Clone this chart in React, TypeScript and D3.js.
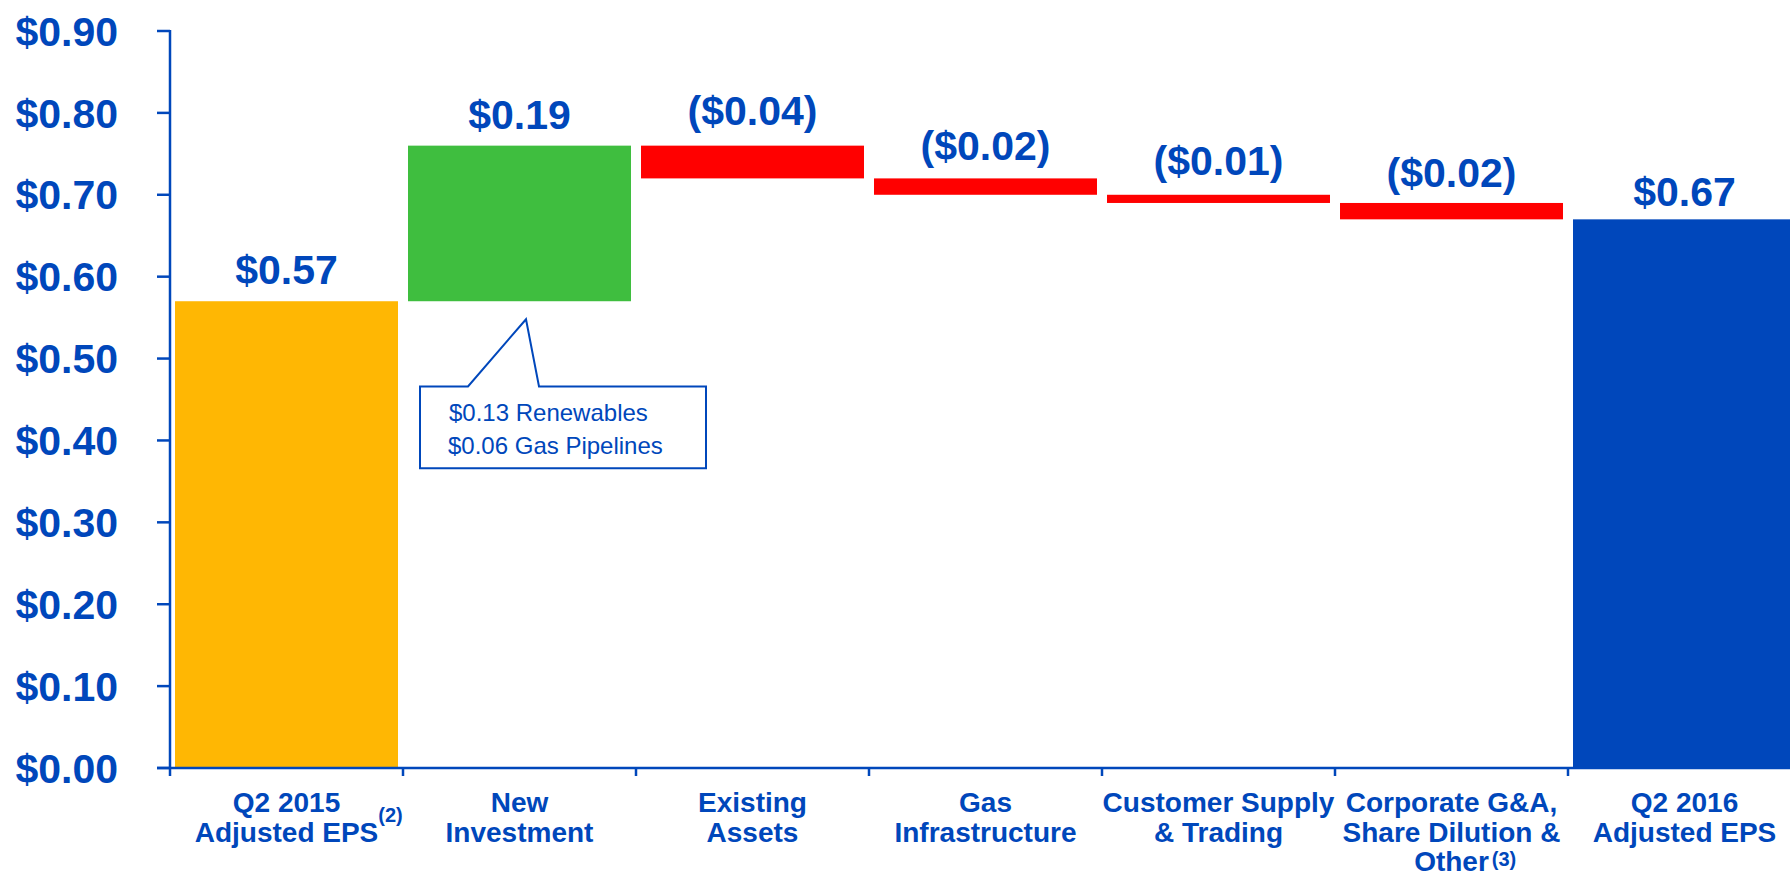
import React from 'react';
import * as d3 from 'd3';

// chart data
const categories = [
  'Q2 2015 Adjusted EPS',
  'New Investment',
  'Existing Assets',
  'Gas Infrastructure',
  'Customer Supply & Trading',
  'Corporate G&A, Share Dilution & Other',
  'Q2 2016 Adjusted EPS',
];
const categoryLines = [
  ['Q2 2015', 'Adjusted EPS'],
  ['New', 'Investment'],
  ['Existing', 'Assets'],
  ['Gas', 'Infrastructure'],
  ['Customer Supply', '& Trading'],
  ['Corporate G&A,', 'Share Dilution &', 'Other'],
  ['Q2 2016', 'Adjusted EPS'],
];
const footnotes = ['(2)', '', '', '', '', '(3)', ''];
const values = [0.57, 0.19, -0.04, -0.02, -0.01, -0.02, 0.67];
const kinds = ['total', 'up', 'down', 'down', 'down', 'down', 'total'];
const valueLabels = ['$0.57', '$0.19', '($0.04)', '($0.02)', '($0.01)', '($0.02)', '$0.67'];
const yTicks = [0, 0.1, 0.2, 0.3, 0.4, 0.5, 0.6, 0.7, 0.8, 0.9];
const calloutLines = ['$0.13 Renewables', '$0.06 Gas Pipelines'];

// gap between a bar top and its value label baseline (placed by hand in the original)
const labelGaps = [17, 17, 21, 18, 20, 16, 13];

const BLUE = '#0047BB';
const colors: Record<string, string> = {
  total0: '#FFB703',
  up: '#3FBE3F',
  down: '#FF0000',
  total1: '#0047BB',
};
const FONT = '"Liberation Sans", Arial, sans-serif';

const measure = (text: string, font: string) => {
  const ctx = document.createElement('canvas').getContext('2d');
  if (!ctx) return text.length * 15;
  ctx.font = font;
  return ctx.measureText(text).width;
};

export default function App() {
  const width = 1790;
  const height = 875;
  const left = 170;
  const bottom = 768;

  const x = d3.scaleBand<string>()
    .domain(categories)
    .range([left, left + 233 * 7])
    .paddingInner(0.043)
    .paddingOuter(0.0215);
  const y = d3.scaleLinear().domain([0, 0.9]).range([bottom, 31]);
  const step = x.step();

  // waterfall running totals
  let run = 0;
  const bars = values.map((v, i) => {
    let lo: number, hi: number;
    if (kinds[i] === 'total') {
      lo = 0; hi = v; run = v;
    } else {
      const next = run + v;
      lo = Math.min(run, next); hi = Math.max(run, next); run = next;
    }
    const color = kinds[i] === 'total' ? (i === 0 ? colors.total0 : colors.total1) : colors[kinds[i]];
    return { cat: categories[i], lo, hi, color, label: valueLabels[i] };
  });

  const bandStart = (c: string) => (x(c) as number) - (step - x.bandwidth()) / 2;

  // callout under the New Investment bar
  const nx = bandStart(categories[1]);
  const boxL = nx + 17, boxR = nx + 303;
  const boxT = y(0.466), boxB = y(0.366);
  const apexX = nx + 123, apexY = y(0.548);
  const calloutPath = `M${boxL},${boxT} L${nx + 65},${boxT} L${apexX},${apexY} L${nx + 136},${boxT} L${boxR},${boxT} L${boxR},${boxB} L${boxL},${boxB} Z`;

  return (
    <svg width={width} height={height} style={{ position: 'absolute', left: 0, top: 0, background: '#fff' }} fontFamily={FONT}>
      {/* bars */}
      {bars.map((b, i) => (
        <rect key={i} x={x(b.cat)} y={y(b.hi)} width={x.bandwidth()} height={y(b.lo) - y(b.hi)} fill={b.color} />
      ))}

      {/* value labels */}
      {bars.map((b, i) => (
        <text key={'v' + i} x={(x(b.cat) as number) + x.bandwidth() / 2} y={y(b.hi) - labelGaps[i]}
          textAnchor="middle" fontSize={41} fontWeight="bold" fill={BLUE}>{b.label}</text>
      ))}

      {/* y axis */}
      <line x1={left} x2={left} y1={y(0.9) - 1} y2={bottom + 8} stroke={BLUE} strokeWidth={2.5} />
      {yTicks.map((t) => (
        <g key={t}>
          <line x1={left - 13} x2={left} y1={y(t)} y2={y(t)} stroke={BLUE} strokeWidth={2.5} />
          <text x={118} y={y(t) + 14.7} textAnchor="end" fontSize={41} fontWeight="bold" fill={BLUE}>
            {'$' + t.toFixed(2)}
          </text>
        </g>
      ))}

      {/* x axis */}
      <line x1={left - 13} x2={width} y1={bottom} y2={bottom} stroke={BLUE} strokeWidth={2.5} />
      {categories.map((c, i) => (
        <line key={'t' + i} x1={bandStart(c) + step} x2={bandStart(c) + step} y1={bottom} y2={bottom + 8} stroke={BLUE} strokeWidth={2.5} />
      ))}
      {categories.map((c, i) => {
        const cx = bandStart(c) + step / 2;
        const lines = categoryLines[i];
        const lh = lines.length > 2 ? 29.5 : 30;
        const last = lines[lines.length - 1];
        const lastW = measure(last, `bold 28px ${FONT}`);
        const lastY = 812 + (lines.length - 1) * lh;
        return (
          <g key={'c' + i}>
            {lines.map((l, j) => (
              <text key={j} x={cx} y={812 + j * lh} textAnchor="middle" fontSize={28} fontWeight="bold" fill={BLUE}>{l}</text>
            ))}
            {footnotes[i] && (
              <text x={cx + lastW / 2 + (lines.length > 2 ? 3 : 0)} y={lines.length > 2 ? lastY - 5 : lastY - 20}
                fontSize={20} fontWeight="bold" fill={BLUE}>{footnotes[i]}</text>
            )}
          </g>
        );
      })}

      {/* callout */}
      <path d={calloutPath} fill="#fff" stroke={BLUE} strokeWidth={2} />
      {calloutLines.map((l, j) => (
        <text key={'co' + j} x={boxL + 29 - j} y={boxT + 35 + j * 33} fontSize={24} fill={BLUE}>{l}</text>
      ))}
    </svg>
  );
}
